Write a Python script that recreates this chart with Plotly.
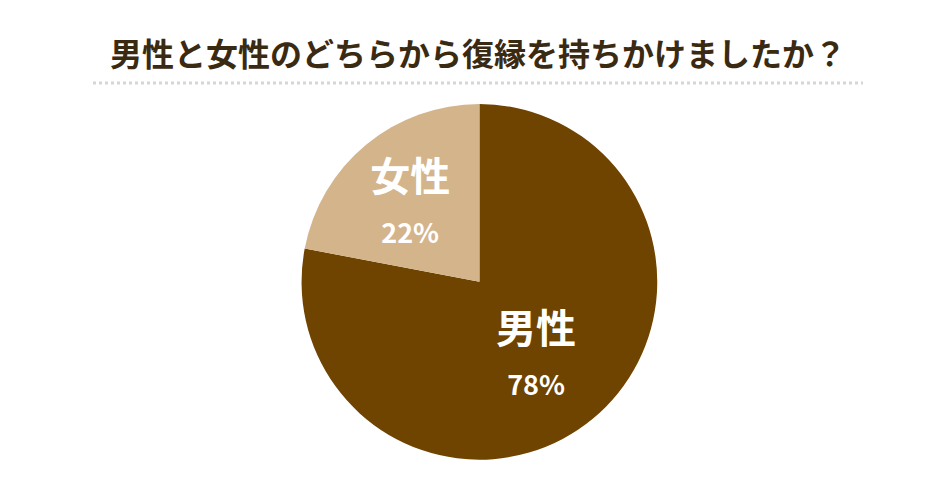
import plotly.graph_objects as go

labels = ["男性", "女性"]
values = [78, 22]
colors = ["#6f4300", "#d4b48a"]

fig = go.Figure()
fig.add_trace(go.Pie(
    labels=labels,
    values=values,
    sort=False,
    direction="clockwise",
    rotation=0,
    marker=dict(colors=colors, line=dict(width=0)),
    texttemplate="<b>%{label}</b><br><b><span style='font-size:27px'>%{percent}</span></b>",
    textposition="inside",
    insidetextorientation="horizontal",
    textfont=dict(family="Noto Sans CJK JP", size=40, color="white"),
    hoverinfo="label+percent",
    domain=dict(x=[0.312, 0.691], y=[0.059, 0.800]),
    showlegend=False,
))

fig.add_shape(type="line", xref="paper", yref="paper",
              x0=85 / 940, x1=855 / 940, y0=1 - 75 / 480, y1=1 - 75 / 480,
              line=dict(color="#d6d6d6", width=3, dash="dot"))

fig.update_layout(
    width=940, height=480,
    margin=dict(l=0, r=0, t=0, b=0),
    paper_bgcolor="white",
    title=dict(text="<b>男性と女性のどちらから復縁を持ちかけましたか？</b>",
               x=0.5, xanchor="center", y=1 - 47 / 480, yanchor="middle",
               font=dict(family="Noto Sans CJK JP", size=32, color="#3b2a12")),
)

fig.write_html("out.html")
